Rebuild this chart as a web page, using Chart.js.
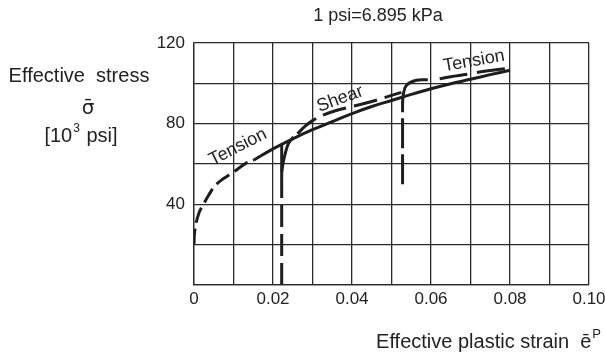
<!DOCTYPE html>
<html>
<head>
<meta charset="utf-8">
<script src="https://cdn.jsdelivr.net/npm/chart.js@4/dist/chart.umd.min.js"></script>
<style>
  html, body { margin: 0; padding: 0; background: #fff; }
  #chart { display: block; }
</style>
</head>
<body>
<canvas id="chart" width="605" height="359"></canvas>
<script>
// tick labels
const xTickLabels = ['0', '0.02', '0.04', '0.06', '0.08', '0.10'];
const yTickValues = [40, 80, 120];
const yTickLabels = ['40', '80', '120'];

// first tension loading (dashed)
const tensionStartX = [0, 0.0002, 0.0012, 0.0025, 0.0037, 0.0054, 0.0075, 0.010, 0.013, 0.0152];
const tensionStartY = [20, 27, 35.4, 40.4, 44.5, 49.4, 52.8, 56, 60.2, 62];

// effective stress - strain curve (solid)
const mainX = [0.0152, 0.020, 0.025, 0.030, 0.035, 0.040, 0.045, 0.050, 0.055, 0.060, 0.065, 0.070, 0.075, 0.080];
const mainY = [62, 67.5, 72.5, 77, 81, 85, 88.5, 91.5, 94.5, 97.3, 99.8, 102, 104.3, 106.5];

// shear reloading
const shearDropX = [0.0222, 0.0222];
const shearDropY = [0, 54];
const shearStubX = [0.0222, 0.0222];
const shearStubY = [54, 70];
const shearKneeX = [0.0222, 0.0226, 0.0231, 0.0239, 0.0252];
const shearKneeY = [56, 61, 65.2, 70.1, 73.4];
const shearX = [0.0262, 0.028, 0.030, 0.033, 0.036, 0.040, 0.045, 0.050, 0.0525];
const shearY = [75, 78.5, 81.5, 84.5, 86.5, 88.5, 91, 94, 95.5];

// second tension reloading
const tensionDropX = [0.0528, 0.0528];
const tensionDropY = [50, 91];
const tensionKneeX = [0.0528, 0.0530, 0.0538, 0.0563, 0.0592];
const tensionKneeY = [90, 94.5, 99, 101.5, 101.8];
const tensionEndX = [0.0622, 0.065, 0.0693, 0.0723, 0.076, 0.0800];
const tensionEndY = [102.3, 103.3, 104.5, 105.6, 106.6, 107.6];

const ink = '#1e1e1e';
const font = '"Liberation Sans", Arial, sans-serif';

function pts(xs, ys) {
    return xs.map((x, i) => ({ x: x, y: ys[i] }));
}

function line(xs, ys, dash, tension) {
    return {
        data: pts(xs, ys),
        showLine: true,
        borderColor: ink,
        borderWidth: 3,
        borderDash: dash,
        borderCapStyle: 'butt',
        pointRadius: 0,
        tension: tension
    };
}

// draws "text" then a small raised superscript, centred or right aligned at x
function supText(ctx, text, sup, x, y, size, supSize, align) {
    ctx.textAlign = 'left';
    ctx.font = size + 'px ' + font;
    const wt = ctx.measureText(text.main).width;
    const wr = text.rest ? ctx.measureText(text.rest).width : 0;
    ctx.font = supSize + 'px ' + font;
    const ws = ctx.measureText(sup).width + 2;
    const total = wt + ws + wr;
    const x0 = align === 'right' ? x - total : x - total / 2;
    ctx.font = size + 'px ' + font;
    ctx.fillText(text.main, x0, y);
    if (text.rest) ctx.fillText(text.rest, x0 + wt + ws, y);
    ctx.font = supSize + 'px ' + font;
    ctx.fillText(sup, x0 + wt + 1, y - size * 0.48);
}

const labelsPlugin = {
    id: 'labels',
    afterDraw(chart) {
        const ctx = chart.ctx;
        ctx.save();
        ctx.fillStyle = '#222';
        ctx.textBaseline = 'alphabetic';

        ctx.textAlign = 'center';
        ctx.font = '18px ' + font;
        ctx.fillText('1 psi=6.895 kPa', 378, 21);
        ctx.font = '20px ' + font;
        ctx.fillText('Effective  stress', 79, 82);
        ctx.font = '20px "DejaVu Sans", sans-serif';
        ctx.fillText('σ̄', 88, 114);

        supText(ctx, { main: '[10', rest: ' psi]' }, '3', 81, 142, 20, 12, 'center');
        supText(ctx, { main: 'Effective plastic strain  ē' }, 'P', 602, 348, 20, 13, 'right');

        // curve labels
        ctx.font = '18px ' + font;
        ctx.textAlign = 'center';
        ctx.textBaseline = 'middle';
        const tags = [['Tension', 238, 147, -27], ['Shear', 340, 99, -20], ['Tension', 474, 61, -10]];
        tags.forEach(([s, x, y, r]) => {
            ctx.save();
            ctx.translate(x, y);
            ctx.rotate(r * Math.PI / 180);
            ctx.fillText(s, 0, 0);
            ctx.restore();
        });
        ctx.restore();
    }
};

new Chart(document.getElementById('chart'), {
    type: 'scatter',
    data: {
        datasets: [
            line(tensionStartX, tensionStartY, [16, 6], 0.4),
            line(mainX, mainY, [], 0.4),
            line(shearDropX, shearDropY, [22, 7], 0),
            line(shearStubX, shearStubY, [], 0),
            line(shearKneeX, shearKneeY, [], 0.4),
            line(shearX, shearY, [24, 8], 0.4),
            line(tensionDropX, tensionDropY, [30, 6], 0),
            line(tensionKneeX, tensionKneeY, [], 0.4),
            line(tensionEndX, tensionEndY, [28, 10], 0.4)
        ]
    },
    options: {
        responsive: false,
        animation: false,
        devicePixelRatio: 1,
        layout: { padding: { left: 154, top: 43, right: 16, bottom: 44 } },
        plugins: { legend: { display: false }, tooltip: { enabled: false } },
        scales: {
            x: {
                type: 'linear',
                min: 0,
                max: 0.1,
                afterFit(scale) { scale.height = 30; scale.paddingLeft = 0; scale.paddingRight = 0; },
                ticks: {
                    stepSize: 0.01,
                    autoSkip: false,
                    maxRotation: 0,
                    padding: 4,
                    color: '#222',
                    font: { family: font, size: 17 },
                    callback: (v, i) => (i % 2 === 0 ? xTickLabels[i / 2] : '')
                },
                grid: { color: '#2a2a2a', lineWidth: 1.3, drawTicks: false },
                border: { color: '#2a2a2a', width: 1.3 }
            },
            y: {
                min: 0,
                max: 120,
                afterFit(scale) { scale.width = 40; scale.paddingTop = 0; scale.paddingBottom = 0; },
                ticks: {
                    stepSize: 20,
                    padding: 9,
                    color: '#222',
                    font: { family: font, size: 17 },
                    callback: (v) => {
                        const k = yTickValues.indexOf(v);
                        return k >= 0 ? yTickLabels[k] : '';
                    }
                },
                grid: { color: '#2a2a2a', lineWidth: 1.3, drawTicks: false },
                border: { color: '#2a2a2a', width: 1.3 }
            }
        }
    },
    plugins: [labelsPlugin]
});
</script>
</body>
</html>
